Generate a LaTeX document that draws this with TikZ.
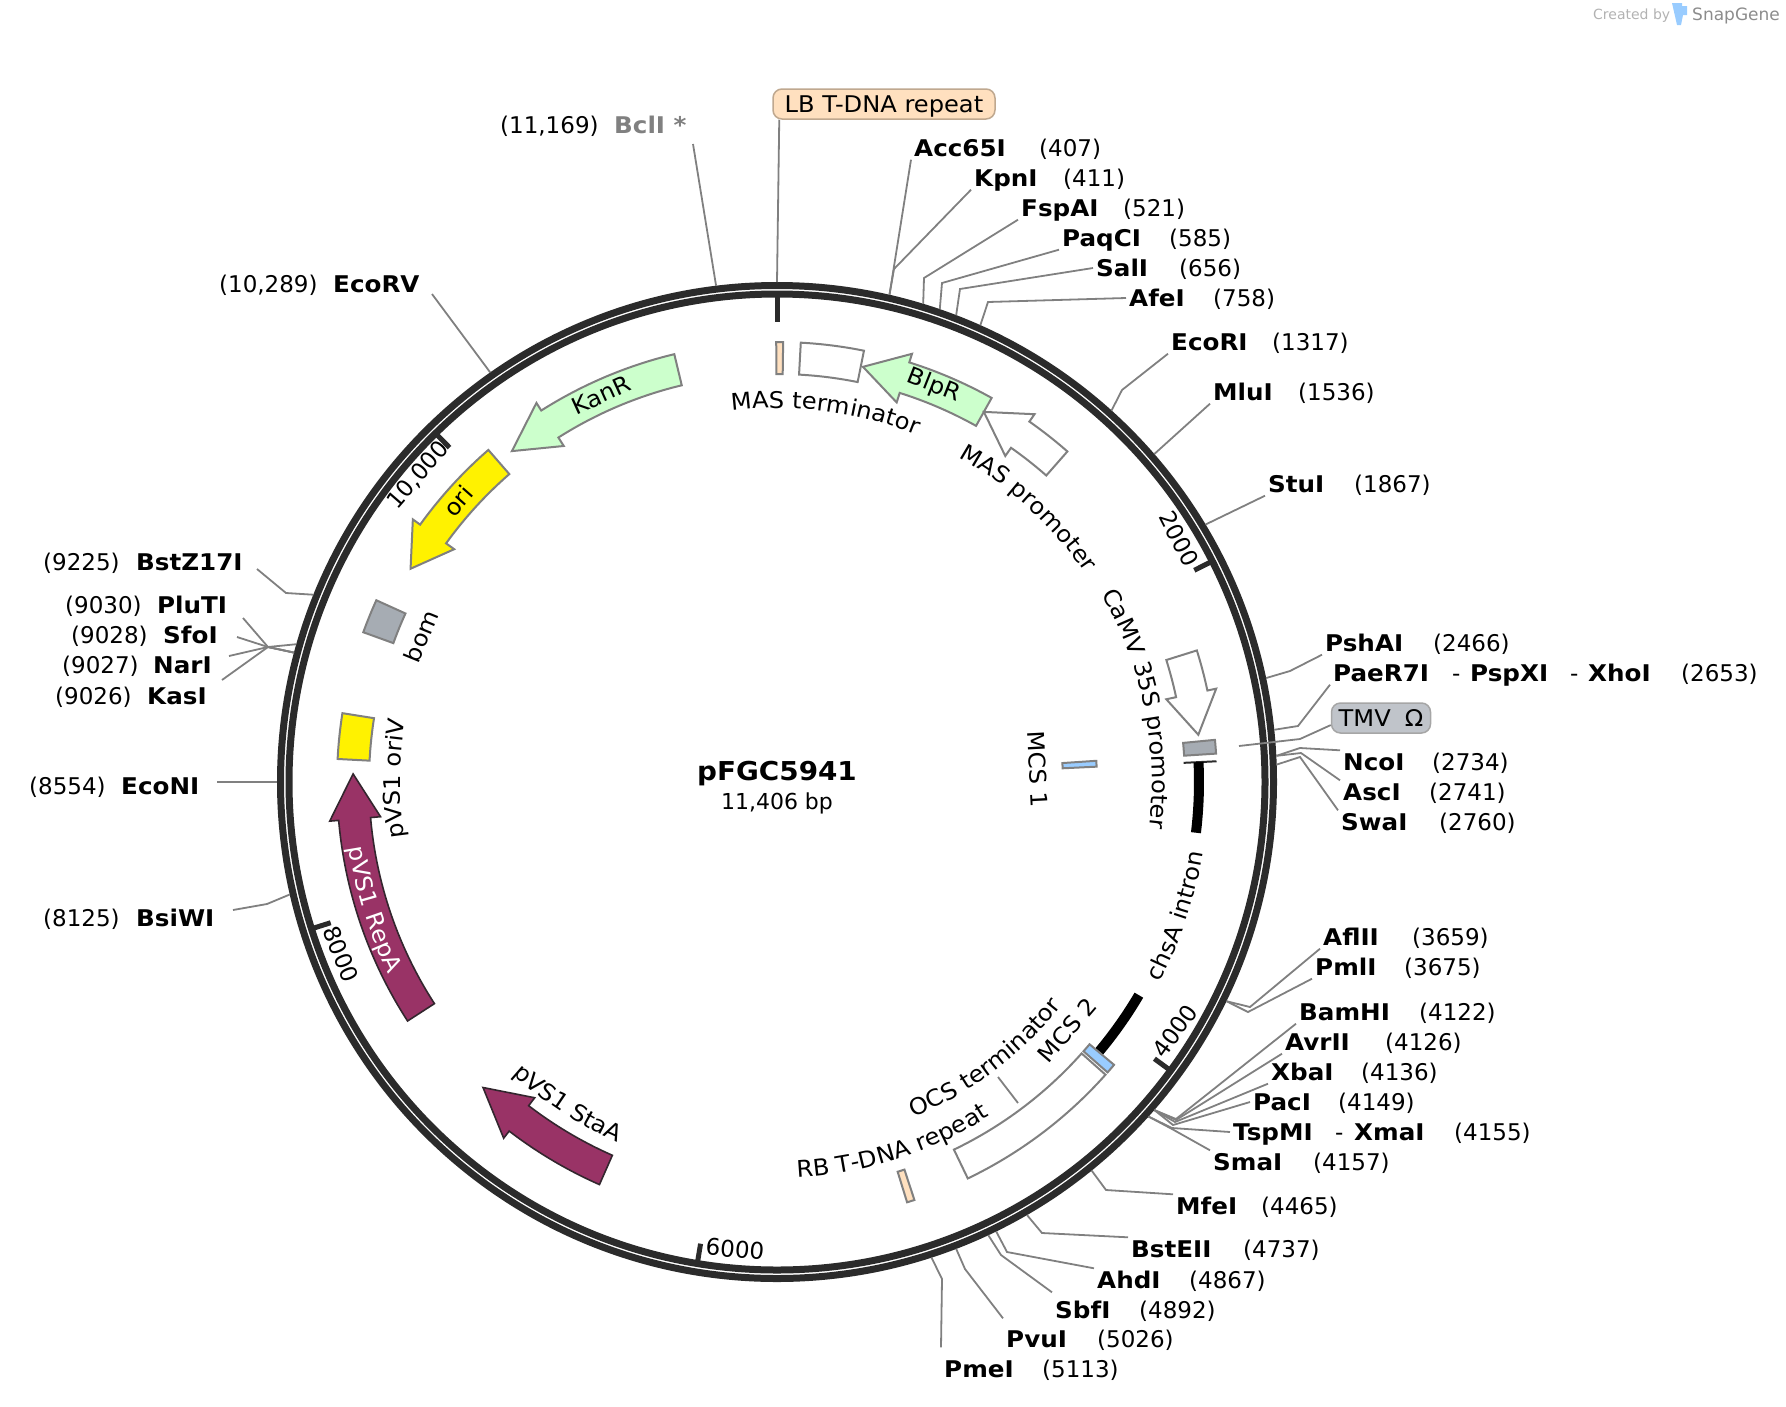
\documentclass[tikz,border=0pt]{standalone}
\usepackage{fontspec}
\usepackage{tikz}
\usetikzlibrary{decorations.text}
\setmainfont{DejaVu Sans}
\newfontfamily\enzymefamily[UprightFont={* Bold}, FakeStretch=1.07]{DejaVu Sans}
\newfontfamily\featfamily[FakeStretch=1.05]{DejaVu Sans}

\definecolor{ringdark}{HTML}{2B2B2B}
\definecolor{leadgray}{HTML}{808080}
\definecolor{kangreen}{HTML}{CCFFCC}
\definecolor{repapurple}{HTML}{993366}
\definecolor{repaedge}{HTML}{33262E}
\definecolor{peach}{HTML}{FFE0BF}
\definecolor{peachedge}{HTML}{BFA88F}
\definecolor{mcsblue}{HTML}{99CCFF}
\definecolor{slate}{HTML}{A6ACB3}
\definecolor{slatelight}{HTML}{C0C4CA}

\newcommand{\labelfont}{\fontsize{23}{27}\selectfont}
\newcommand{\featfont}{\featfamily\fontsize{23}{27}\selectfont}
\newcommand{\namefont}{\enzymefamily\fontsize{23}{27}\selectfont}
\newcommand{\titlefont}{\enzymefamily\fontsize{26}{31}\selectfont}

\tikzset{
    enzyme/.style={anchor=west, xshift=-3pt, inner sep=3pt, text height=17pt, text depth=0pt, font=\namefont},
    sitepos/.style={anchor=west, xshift=-3pt, inner sep=3pt, text height=17pt, text depth=0pt, font=\labelfont},
    leader/.style={draw=leadgray, line width=1.8pt},
    feat/.style={draw=leadgray, line width=2pt, line join=miter},
    gene/.style={draw=repaedge, line width=1.6pt, fill=repapurple},
    sticker/.style={draw, rounded corners=9pt, font=\featfont, line width=1.5pt, minimum height=30pt, inner sep=0pt, text height=17pt, text depth=0pt},
    arclabel/.style={font=\featfont, inner sep=0pt},
    ticklabel/.style={font=\labelfont, inner sep=0pt}
}

% box of the feature track, from angle #2 to #3
\newcommand{\featbox}[3][feat]{
    \draw[#1] (#2:440) arc[start angle=#2, end angle=#3, radius=440] -- (#3:408) arc[start angle=#3, end angle=#2, radius=408] -- cycle;
}
% arrow of the feature track: tail, shoulder, tip
\newcommand{\featarrow}[4][feat]{
    \draw[#1] (#2:440) arc[start angle=#2, end angle=#3, radius=440] -- (#3:449) -- (#4:424) -- (#3:398) -- (#3:408) arc[start angle=#3, end angle=#2, radius=408] -- cycle;
}
% text that follows the circle
\newcommand{\curvetext}[5][black]{
    \path[decorate, decoration={text along path, text align=center, text color=#1, text={|\featfont|#5}}] (#3:#2) arc[start angle=#3, end angle=#4, radius=#2];
}

\begin{document}
\begin{tikzpicture}[x=1pt, y=-1pt]
    \useasboundingbox (0,0) rectangle (1786,1406);

    % plasmid backbone
    \node[circle, draw=ringdark, line width=7pt, minimum size=993pt, inner sep=0pt] (ring) at (777,782) {};
    \node[circle, draw=ringdark, line width=7pt, minimum size=976pt, inner sep=0pt] (ringin) at (777,782) {};

    \node[font=\titlefont] (title) at (777,774) {pFGC5941};
    \node[font=\fontsize{22}{26}\selectfont] (size) at (777,803) {11,406 bp};

    \begin{scope}[shift={(777,782)}, y=1pt]
        % ticks
        \draw[line width=5pt, draw=ringdark] (90:487) -- (90:460);
        \draw[line width=5pt, draw=ringdark] (26.9:487) -- (26.9:468);
        \draw[line width=5pt, draw=ringdark] (-36.25:487) -- (-36.25:468);
        \draw[line width=5pt, draw=ringdark] (-99.4:487) -- (-99.4:468);
        \draw[line width=5pt, draw=ringdark] (197.5:487) -- (197.5:468);
        \draw[line width=5pt, draw=ringdark] (134.4:487) -- (134.4:468);

        % features
        \featbox[feat, fill=peach]{90.1}{89.2}
        \featbox{86.9}{78.6}
        \featarrow[feat, fill=kangreen]{60.8}{72.5}{78.3}
        \featarrow{48.7}{55}{60.8}
        \featarrow{17.4}{12}{6.4}
        \featbox[feat, fill=slate]{5.5}{3.7}
        \draw[line width=2pt, draw=ringdark] (2.7:407) -- (2.7:440);
        \draw[line width=10pt] (2.7:422) arc[start angle=2.7, end angle=-6.9, radius=422];
        \draw[line width=10pt] (-30.5:420) arc[start angle=-30.5, end angle=-39.9, radius=420];
        \featbox[feat, fill=mcsblue]{-40}{-41.3}
        \featbox{-41.7}{-64.3}
        \featbox[feat, fill=peach]{-71.8}{-72.8}
        \featarrow[gene]{-113.8}{-127.5}{-133.9}
        \featarrow[gene]{212.9}{185}{178.9}
        \featbox[feat, fill=yellow]{171}{177}
        \featbox[feat, fill=slate]{155.6}{160.1}
        \featarrow[feat, fill=yellow]{131}{144.2}{149.8}
        \featarrow[feat, fill=kangreen]{103.5}{122.4}{128.7}

        % small box of MCS 1
        \draw[feat, fill=mcsblue] (3.8:320) arc[start angle=3.8, end angle=2.75, radius=320] -- (2.75:286) arc[start angle=2.75, end angle=3.8, radius=286] -- cycle;

        % text on the circle
        \curvetext{374}{112}{53}{MAS terminator}
        \curvetext{372}{80}{15}{MAS promoter}
        \curvetext{375}{49.5}{-26.5}{CaMV 35S promoter}
        \curvetext{432}{-48}{11}{chsA intron}
        \curvetext{362}{-90}{-16}{OCS terminator}
        \curvetext{396}{-105.3}{-39.3}{RB T-DNA repeat}
        \curvetext{394}{-149}{-97}{pVS1 StaA}
        \curvetext[white]{433}{170}{225}{pVS1 RepA}
        \curvetext{377}{205}{154}{pVS1 oriV}
    \end{scope}

    \node[arclabel, rotate=-21.6] (blprtext) at (934,386) {BlpR};
    \node[arclabel, rotate=24.5] (kanrtext) at (601,395) {KanR};
    \node[arclabel, rotate=48.6] (oritext) at (458,501) {ori};
    \node[arclabel, rotate=67.7] (bomtext) at (421,636) {bom};
    \node[arclabel, rotate=-87] (mcsonetext) at (1038,769) {MCS 1};
    \node[arclabel, rotate=49.4] (mcstwotext) at (1067,1030) {MCS 2};

    \node[ticklabel, rotate=-63] (tick2000) at (1179,539) {2000};
    \node[ticklabel, rotate=54] (tick4000) at (1175,1031) {4000};
    \node[ticklabel, rotate=-5] (tick6000) at (735,1249) {6000};
    \node[ticklabel, rotate=-68] (tick8000) at (341,954) {8000};
    \node[ticklabel, rotate=49] (tick10000) at (418,475) {10,000};

    % feature stickers
    \node[sticker, fill=peach, draw=peachedge, minimum width=222pt] (lbrepeat) at (884,104) {LB T-DNA repeat};
    \node[sticker, fill=slatelight, draw=leadgray!70, minimum width=99pt] (tmv) at (1381,718) {TMV\; Ω};
    \draw[leader] ([xshift=7pt]lbrepeat.south west) -- (ring.90);
    \draw[leader] (1239,746) -- (1300,739) -- (tmv.188);
    \coordinate (ocsa) at (998,1077);
    \coordinate (ocsb) at (1018,1103);
    \draw[leader] (ocsa) -- (ocsb);

    % sites on the top right
    \node[enzyme] (acc) at (914,148) {Acc65I};
    \node[sitepos] (accpos) at (1039,148) {(407)};
    \node[enzyme] (kpn) at (974,178) {KpnI};
    \node[sitepos] (kpnpos) at (1063,178) {(411)};
    \node[enzyme] (fsp) at (1021,208) {FspAI};
    \node[sitepos] (fsppos) at (1123,208) {(521)};
    \node[enzyme] (paq) at (1062,238) {PaqCI};
    \node[sitepos] (paqpos) at (1169,238) {(585)};
    \node[enzyme] (sal) at (1096,268) {SalI};
    \node[sitepos] (salpos) at (1179,268) {(656)};
    \node[enzyme] (afe) at (1129,298) {AfeI};
    \node[sitepos] (afepos) at (1213,298) {(758)};
    \node[enzyme] (ecori) at (1171,342) {EcoRI};
    \node[sitepos] (ecoripos) at (1272,342) {(1317)};
    \node[enzyme] (mlu) at (1213,392) {MluI};
    \node[sitepos] (mlupos) at (1298,392) {(1536)};
    \node[enzyme] (stu) at (1268,484) {StuI};
    \node[sitepos] (stupos) at (1354,484) {(1867)};

    \draw[leader] (ring.77.15) -- (acc.south west);
    \draw[leader] (ring.77.03) -- (894,269) -- (kpn.south west);
    \draw[leader] (ring.73.56) -- (924,278) -- (fsp.south west);
    \draw[leader] (ring.71.54) -- (942,283) -- (paq.south west);
    \draw[leader] (ring.69.29) -- (960,289) -- (sal.west);
    \draw[leader] (ring.66.08) -- (988,302) -- (afe.west);
    \draw[leader] (ring.48.43) -- (1122,390) -- (ecori.south west);
    \draw[leader] (ring.41.52) -- (mlu.south west);
    \draw[leader] (ring.31.07) -- (stu.south west);

    % sites on the right
    \node[enzyme] (psh) at (1325,643) {PshAI};
    \node[sitepos] (pshpos) at (1433,643) {(2466)};
    \node[enzyme] (pae) at (1333,673) {PaeR7I};
    \node[sitepos] (paedash) at (1452,673) {-};
    \node[enzyme] (psp) at (1470,673) {PspXI};
    \node[sitepos] (pspdash) at (1570,673) {-};
    \node[enzyme] (xho) at (1588,673) {XhoI};
    \node[sitepos] (xhopos) at (1681,673) {(2653)};
    \node[enzyme] (nco) at (1343,762) {NcoI};
    \node[sitepos] (ncopos) at (1432,762) {(2734)};
    \node[enzyme] (asc) at (1343,792) {AscI};
    \node[sitepos] (ascpos) at (1429,792) {(2741)};
    \node[enzyme] (swa) at (1341,822) {SwaI};
    \node[sitepos] (swapos) at (1439,822) {(2760)};

    \draw[leader] (ring.12.17) -- (1290,671) -- (psh.south west);
    \draw[leader] (ring.6.27) -- (1298,726) -- (pae.south west);
    \draw[leader] (ring.3.71) -- (1300,748) -- (nco.north west);
    \draw[leader] (ring.3.49) -- (1301,753) -- (asc.north west);
    \draw[leader] (ring.2.89) -- (1300,757) -- (swa.north west);

    % sites on the lower right
    \node[enzyme] (afl) at (1323,937) {AflII};
    \node[sitepos] (aflpos) at (1412,937) {(3659)};
    \node[enzyme] (pml) at (1315,967) {PmlI};
    \node[sitepos] (pmlpos) at (1404,967) {(3675)};
    \node[enzyme] (bam) at (1299,1012) {BamHI};
    \node[sitepos] (bampos) at (1419,1012) {(4122)};
    \node[enzyme] (avr) at (1285,1042) {AvrII};
    \node[sitepos] (avrpos) at (1385,1042) {(4126)};
    \node[enzyme] (xba) at (1271,1072) {XbaI};
    \node[sitepos] (xbapos) at (1361,1072) {(4136)};
    \node[enzyme] (pac) at (1253,1102) {PacI};
    \node[sitepos] (pacpos) at (1338,1102) {(4149)};
    \node[enzyme] (tsp) at (1233,1132) {TspMI};
    \node[sitepos] (tspdash) at (1335,1132) {-};
    \node[enzyme] (xma) at (1354,1132) {XmaI};
    \node[sitepos] (xmapos) at (1454,1132) {(4155)};
    \node[enzyme] (sma) at (1213,1162) {SmaI};
    \node[sitepos] (smapos) at (1313,1162) {(4157)};
    \node[enzyme] (mfe) at (1176,1206) {MfeI};
    \node[sitepos] (mfepos) at (1261,1206) {(4465)};
    \node[enzyme] (bst) at (1131,1249) {BstEII};
    \node[sitepos] (bstpos) at (1243,1249) {(4737)};
    \node[enzyme] (ahd) at (1097,1280) {AhdI};
    \node[sitepos] (ahdpos) at (1189,1280) {(4867)};
    \node[enzyme] (sbf) at (1055,1310) {SbfI};
    \node[sitepos] (sbfpos) at (1139,1310) {(4892)};
    \node[enzyme] (pvu) at (1006,1339) {PvuI};
    \node[sitepos] (pvupos) at (1097,1339) {(5026)};
    \node[enzyme] (pme) at (944,1369) {PmeI};
    \node[sitepos] (pmepos) at (1042,1369) {(5113)};

    \draw[leader] (ring.334.51) -- (1250,1007) -- (afl.south west);
    \draw[leader] (ring.334.01) -- (1248,1012) -- (pml.south west);
    \draw[leader] (ring.319.90) -- (1176,1119) -- (bam.south west);
    \draw[leader] (ring.319.77) -- (1176,1120) -- (avr.south west);
    \draw[leader] (ring.319.46) -- (1175,1122) -- (xba.south west);
    \draw[leader] (ring.319.05) -- (1173,1125) -- (pac.west);
    \draw[leader] (ring.318.86) -- (1172,1128) -- (tsp.west);
    \draw[leader] (ring.318.80) -- (1172,1129) -- (sma.north west);
    \draw[leader] (ring.309.07) -- (1106,1190) -- (mfe.north west);
    \draw[leader] (ring.300.49) -- (1042,1233) -- (bst.north west);
    \draw[leader] (ring.296.39) -- (1007,1252) -- (ahd.north west);
    \draw[leader] (ring.295.60) -- (1001,1255) -- ([yshift=6pt]sbf.north west);
    \draw[leader] (ring.291.37) -- (965,1269) -- ([yshift=9pt]pvu.north west);
    \draw[leader] (ring.288.62) -- (942,1279) -- ([yshift=10pt]pme.north west);

    % sites on the left
    \node[enzyme] (bcl) at (614,125) {\textcolor{leadgray}{BclI *}};
    \node[sitepos] (bclpos) at (500,125) {(11,169)};
    \node[enzyme] (ecorv) at (333,284) {EcoRV};
    \node[sitepos] (ecorvpos) at (219,284) {(10,289)};
    \node[enzyme] (bstz) at (136,562) {BstZ17I};
    \node[sitepos] (bstzpos) at (43,562) {(9225)};
    \node[enzyme] (plu) at (157,605) {PluTI};
    \node[sitepos] (plupos) at (65,605) {(9030)};
    \node[enzyme] (sfo) at (163,635) {SfoI};
    \node[sitepos] (sfopos) at (71,635) {(9028)};
    \node[enzyme] (nar) at (153,665) {NarI};
    \node[sitepos] (narpos) at (62,665) {(9027)};
    \node[enzyme] (kas) at (147,696) {KasI};
    \node[sitepos] (kaspos) at (55,696) {(9026)};
    \node[enzyme] (econi) at (121,786) {EcoNI};
    \node[sitepos] (econipos) at (29,786) {(8554)};
    \node[enzyme] (bsi) at (136,918) {BsiWI};
    \node[sitepos] (bsipos) at (43,918) {(8125)};

    \coordinate (bclend) at (693,144);
    \coordinate (ecorvend) at (432,294);
    \coordinate (bstzend) at (257,569);
    \coordinate (pluend) at (243,618);
    \coordinate (sfoend) at (237,637);
    \coordinate (narend) at (229,656);
    \coordinate (kasend) at (222,680);
    \coordinate (econiend) at (217,782);
    \coordinate (bsiend) at (233,910);
    \draw[leader] (ring.97.48) -- (bclend);
    \draw[leader] (ring.125.26) -- (ecorvend);
    \draw[leader] (ring.158.84) -- (286,593) -- (bstzend);
    \draw[leader] (ring.164.99) -- (268,647) -- (pluend);
    \draw[leader] (ring.165.06) -- (268,647) -- (sfoend);
    \draw[leader] (ring.165.09) -- (268,647) -- (narend);
    \draw[leader] (ring.165.12) -- (268,647) -- (kasend);
    \draw[leader] (ring.180.02) -- (econiend);
    \draw[leader] (ring.193.56) -- (267,904) -- (bsiend);

    % credit in the corner
    \node[font=\fontsize{14}{17}\selectfont, text=black!30, anchor=west, inner sep=0pt] (created) at (1593,16) {Created by};
    \node[font=\fontsize{17}{20}\selectfont, text=black!45, anchor=west, inner sep=0pt] (snapgene) at (1692,16) {SnapGene};
    \fill[mcsblue] (1672,3) -- (1682,3) -- (1682,6) -- (1687,6) -- (1687,15) -- (1683,15) -- (1681,25) -- (1677,25) -- cycle;
\end{tikzpicture}
\end{document}
